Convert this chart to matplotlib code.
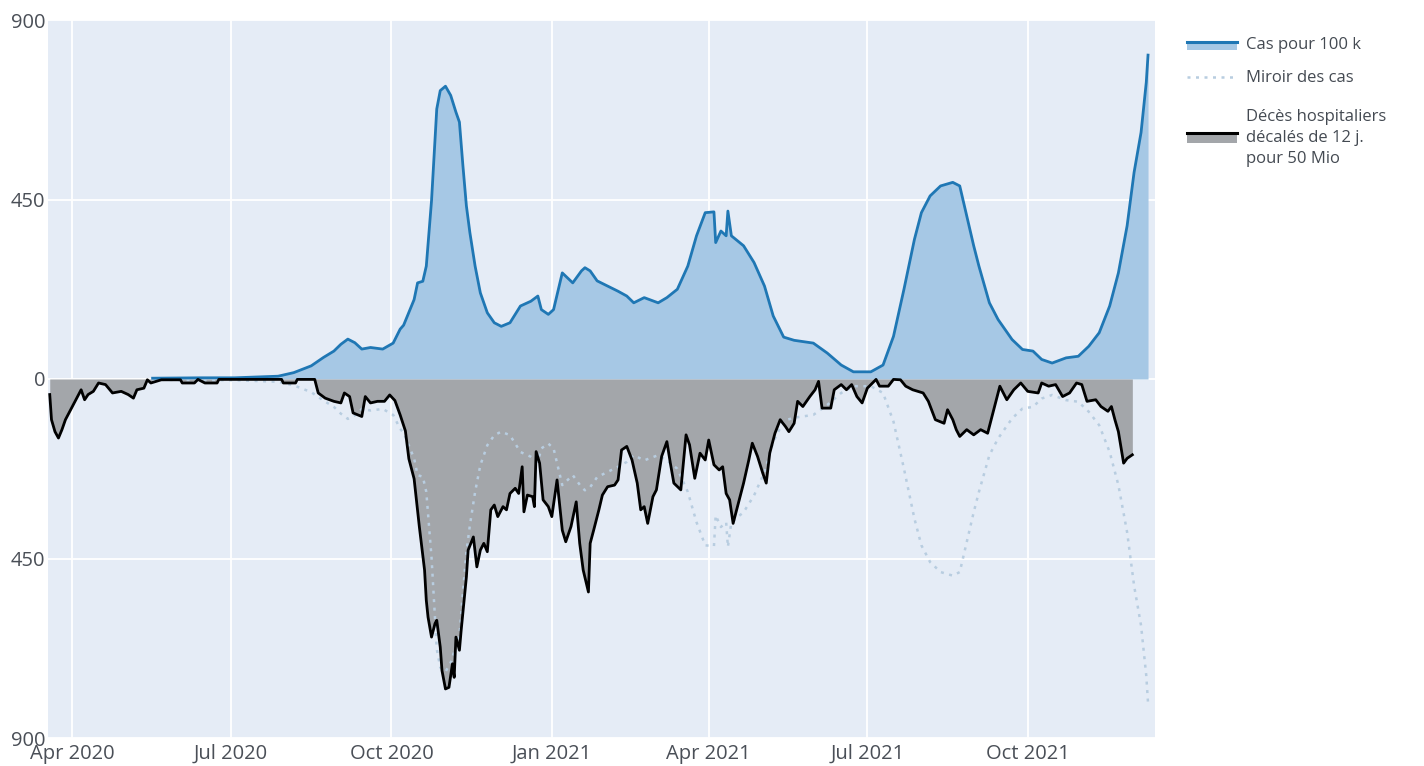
import matplotlib
matplotlib.use("Agg")
import matplotlib.pyplot as plt
from matplotlib.lines import Line2D
from matplotlib.patches import Rectangle
from matplotlib.ticker import FuncFormatter
import pandas as pd

plt.rcParams['font.family'] = ['Open Sans', 'DejaVu Sans']

# ---------------- data ----------------
case_dates = [
    "2020-05-17", "2020-06-14", "2020-07-03", "2020-07-28", "2020-08-06", "2020-08-16",
    "2020-08-23", "2020-08-29", "2020-09-02", "2020-09-06", "2020-09-10", "2020-09-14",
    "2020-09-19", "2020-09-26", "2020-10-02", "2020-10-06", "2020-10-08", "2020-10-14",
    "2020-10-16", "2020-10-19", "2020-10-21", "2020-10-24", "2020-10-27", "2020-10-29",
    "2020-11-01", "2020-11-04", "2020-11-07", "2020-11-09", "2020-11-11", "2020-11-13",
    "2020-11-15", "2020-11-18", "2020-11-21", "2020-11-25", "2020-11-29", "2020-12-03",
    "2020-12-08", "2020-12-14", "2020-12-20", "2020-12-24", "2020-12-26", "2020-12-30",
    "2021-01-02", "2021-01-07", "2021-01-13", "2021-01-18", "2021-01-20", "2021-01-23",
    "2021-01-27", "2021-02-02", "2021-02-08", "2021-02-13", "2021-02-17", "2021-02-23",
    "2021-03-03", "2021-03-08", "2021-03-14", "2021-03-20", "2021-03-25", "2021-03-30",
    "2021-04-04", "2021-04-05", "2021-04-08", "2021-04-11", "2021-04-12", "2021-04-14",
    "2021-04-21", "2021-04-27", "2021-05-03", "2021-05-08", "2021-05-14", "2021-05-20",
    "2021-05-31", "2021-06-08", "2021-06-16", "2021-06-23", "2021-07-03", "2021-07-10",
    "2021-07-16", "2021-07-22", "2021-07-28", "2021-08-01", "2021-08-06", "2021-08-12",
    "2021-08-19", "2021-08-23", "2021-08-27", "2021-08-31", "2021-09-03", "2021-09-09",
    "2021-09-14", "2021-09-22", "2021-09-28", "2021-10-04", "2021-10-09", "2021-10-15",
    "2021-10-23", "2021-10-30", "2021-11-05", "2021-11-11", "2021-11-17", "2021-11-22",
    "2021-11-27", "2021-12-01", "2021-12-05", "2021-12-08", "2021-12-09",
]
case_values = [
    2, 3, 3, 7, 16, 33,
    54, 70, 87, 100, 91, 75,
    79, 75, 90, 125, 135, 199,
    241, 245, 283, 447, 677, 723,
    734, 711, 669, 644, 535, 434,
    367, 283, 216, 166, 141, 132,
    141, 183, 195, 208, 174, 162,
    174, 266, 241, 271, 279, 271,
    246, 233, 220, 208, 191, 204,
    191, 204, 225, 283, 359, 417,
    419, 342, 371, 359, 421, 359,
    334, 292, 233, 158, 105, 97,
    90, 65, 35, 18, 18, 35,
    107, 225, 350, 417, 459, 484,
    493, 484, 409, 334, 283, 191,
    149, 99, 74, 70, 49, 40,
    53, 57, 82, 116, 183, 266,
    384, 518, 618, 744, 812,
]
mirror_values = [-v for v in case_values]

death_dates = [
    "2020-03-19", "2020-03-20", "2020-03-22", "2020-03-24", "2020-03-26", "2020-03-28",
    "2020-03-31", "2020-04-03", "2020-04-06", "2020-04-08", "2020-04-10", "2020-04-13",
    "2020-04-16", "2020-04-20", "2020-04-24", "2020-04-29", "2020-05-03", "2020-05-06",
    "2020-05-08", "2020-05-12", "2020-05-14", "2020-05-16", "2020-05-22", "2020-06-02",
    "2020-06-03", "2020-06-10", "2020-06-12", "2020-06-16", "2020-06-23", "2020-06-24",
    "2020-07-30", "2020-07-31", "2020-08-07", "2020-08-08", "2020-08-18", "2020-08-20",
    "2020-08-24", "2020-08-29", "2020-09-02", "2020-09-04", "2020-09-07", "2020-09-09",
    "2020-09-14", "2020-09-16", "2020-09-19", "2020-09-23", "2020-09-27", "2020-09-30",
    "2020-10-03", "2020-10-06", "2020-10-09", "2020-10-11", "2020-10-14", "2020-10-17",
    "2020-10-20", "2020-10-21", "2020-10-22", "2020-10-24", "2020-10-26", "2020-10-27",
    "2020-10-29", "2020-10-30", "2020-11-01", "2020-11-03", "2020-11-05", "2020-11-06",
    "2020-11-07", "2020-11-09", "2020-11-10", "2020-11-13", "2020-11-14", "2020-11-17",
    "2020-11-19", "2020-11-21", "2020-11-23", "2020-11-25", "2020-11-27", "2020-11-29",
    "2020-12-01", "2020-12-04", "2020-12-06", "2020-12-08", "2020-12-11", "2020-12-13",
    "2020-12-15", "2020-12-16", "2020-12-18", "2020-12-21", "2020-12-22", "2020-12-23",
    "2020-12-25", "2020-12-27", "2020-12-30", "2021-01-01", "2021-01-04", "2021-01-07",
    "2021-01-09", "2021-01-12", "2021-01-15", "2021-01-17", "2021-01-19", "2021-01-22",
    "2021-01-23", "2021-01-25", "2021-01-28", "2021-01-30", "2021-02-02", "2021-02-06",
    "2021-02-08", "2021-02-10", "2021-02-13", "2021-02-16", "2021-02-19", "2021-02-21",
    "2021-02-23", "2021-02-25", "2021-02-28", "2021-03-02", "2021-03-05", "2021-03-08",
    "2021-03-10", "2021-03-12", "2021-03-16", "2021-03-19", "2021-03-21", "2021-03-24",
    "2021-03-27", "2021-03-30", "2021-04-01", "2021-04-04", "2021-04-07", "2021-04-09",
    "2021-04-11", "2021-04-13", "2021-04-15", "2021-04-18", "2021-04-21", "2021-04-24",
    "2021-04-26", "2021-04-29", "2021-05-02", "2021-05-04", "2021-05-06", "2021-05-09",
    "2021-05-12", "2021-05-15", "2021-05-17", "2021-05-20", "2021-05-22", "2021-05-25",
    "2021-05-29", "2021-06-01", "2021-06-03", "2021-06-05", "2021-06-10", "2021-06-12",
    "2021-06-16", "2021-06-19", "2021-06-22", "2021-06-25", "2021-06-28", "2021-07-01",
    "2021-07-06", "2021-07-08", "2021-07-13", "2021-07-16", "2021-07-20", "2021-07-23",
    "2021-07-27", "2021-08-02", "2021-08-05", "2021-08-09", "2021-08-14", "2021-08-16",
    "2021-08-19", "2021-08-21", "2021-08-23", "2021-08-27", "2021-08-31", "2021-09-04",
    "2021-09-08", "2021-09-10", "2021-09-13", "2021-09-15", "2021-09-19", "2021-09-23",
    "2021-09-27", "2021-10-01", "2021-10-07", "2021-10-09", "2021-10-13", "2021-10-17",
    "2021-10-21", "2021-10-25", "2021-10-29", "2021-11-01", "2021-11-04", "2021-11-09",
    "2021-11-12", "2021-11-16", "2021-11-18", "2021-11-20", "2021-11-22", "2021-11-25",
    "2021-11-27", "2021-11-30",
]
death_values = [
    -39, -102, -132, -148, -127, -102,
    -77, -52, -27, -52, -39, -31,
    -10, -14, -35, -31, -39, -48,
    -27, -23, -2, -10, -2, -2,
    -10, -10, -1, -10, -10, -1,
    -1, -10, -10, -1, -1, -35,
    -48, -56, -60, -35, -44, -85,
    -94, -44, -60, -56, -56, -40,
    -54, -90, -130, -200, -250, -370,
    -479, -555, -597, -647, -613, -605,
    -672, -731, -777, -773, -714, -748,
    -647, -680, -630, -496, -429, -396,
    -471, -429, -412, -433, -328, -316,
    -345, -320, -328, -287, -274, -287,
    -220, -333, -291, -295, -320, -182,
    -211, -303, -320, -345, -253, -379,
    -408, -370, -308, -412, -479, -534,
    -412, -379, -328, -291, -270, -266,
    -253, -178, -169, -203, -261, -328,
    -320, -362, -295, -278, -194, -157,
    -211, -261, -278, -140, -165, -249,
    -186, -203, -153, -215, -228, -220,
    -287, -303, -362, -312, -261, -203,
    -161, -194, -236, -261, -186, -136,
    -102, -119, -132, -111, -56, -69,
    -44, -27, -6, -73, -73, -27,
    -14, -27, -14, -44, -60, -23,
    -1, -18, -18, -1, -2, -18,
    -27, -35, -56, -102, -111, -77,
    -102, -127, -144, -127, -140, -127,
    -136, -102, -52, -18, -52, -27,
    -10, -31, -35, -10, -18, -14,
    -44, -35, -10, -14, -56, -52,
    -69, -81, -69, -102, -132, -211,
    -199, -190,
]

y_ticks = [-900, -450, 0, 450, 900]
x_tick_dates = ["2020-04-01", "2020-07-01", "2020-10-01", "2021-01-01",
                "2021-04-01", "2021-07-01", "2021-10-01"]
x_tick_labels = ["Apr 2020", "Jul 2020", "Oct 2020", "Jan 2021",
                 "Apr 2021", "Jul 2021", "Oct 2021"]
legend_labels = ["Cas pour 100 k", "Miroir des cas",
                 "Décès hospitaliers\ndécalés de 12 j.\npour 50 Mio"]

# ---------------- figure ----------------
W, H = 1424, 766
fig = plt.figure(figsize=(W / 100, H / 100), dpi=100)
fig.patch.set_facecolor("white")
ax = fig.add_axes([48 / W, 1 - 738 / H, (1155 - 48) / W, (738 - 20) / H])
ax.set_facecolor("#e5ecf6")

cd = pd.to_datetime(case_dates)
dd = pd.to_datetime(death_dates)

blue = "#1f77b4"
case_fill = "#a6c8e5"
death_fill = "#a3a6aa"
mirror_col = "#b8cde0"
ax.fill_between(cd, case_values, 0, color=case_fill, lw=0, zorder=2)
ax.plot(cd, case_values, color=blue, lw=2.0, zorder=5)
ax.fill_between(dd, death_values, 0, color=death_fill, lw=0, zorder=3)
ax.plot(cd, mirror_values, color=mirror_col, lw=1.8, ls=(0, (1.2, 2.2)), zorder=4)
ax.plot(dd, death_values, color="black", lw=2.0, zorder=6)

ax.set_ylim(-900, 900)
ax.set_xlim(pd.Timestamp("2020-03-18"), pd.Timestamp("2021-12-13"))
ax.set_yticks(y_ticks)
ax.yaxis.set_major_formatter(FuncFormatter(lambda v, p: f"{abs(int(v))}"))
ax.set_xticks(pd.to_datetime(x_tick_dates))
ax.set_xticklabels(x_tick_labels)
ax.grid(True, color="white", lw=1.3, zorder=1)
ax.set_axisbelow(True)
for s in ax.spines.values():
    s.set_visible(False)
tick_col = "#4a4f57"
ax.tick_params(axis="both", length=0, labelsize=14.5, colors=tick_col)
ax.tick_params(axis="x", pad=4)
ax.tick_params(axis="y", pad=2)

# ---------------- legend (plotly-like, manual) ----------------
def fx(x):
    return x / W

def fy(y):
    return 1 - y / H

tc = "#444a52"
fs = 12
# entry 1
fig.add_artist(Rectangle((fx(1187), fy(50)), (1237 - 1187) / W, 8 / H,
                         transform=fig.transFigure, color=case_fill, lw=0))
fig.add_artist(Line2D([fx(1187), fx(1237)], [fy(42), fy(42)], color=blue, lw=2.2,
                      transform=fig.transFigure))
fig.text(fx(1246), fy(45), legend_labels[0], fontsize=fs, color=tc, va="center", ha="left")
# entry 2
fig.add_artist(Line2D([fx(1187), fx(1237)], [fy(77), fy(77)], color=mirror_col, lw=1.8,
                      ls=(0, (1.2, 2.2)), transform=fig.transFigure))
fig.text(fx(1246), fy(78), legend_labels[1], fontsize=fs, color=tc, va="center", ha="left")
# entry 3
fig.add_artist(Rectangle((fx(1187), fy(143)), (1237 - 1187) / W, 10 / H,
                         transform=fig.transFigure, color=death_fill, lw=0))
fig.add_artist(Line2D([fx(1187), fx(1237)], [fy(133), fy(133)], color="black", lw=2.2,
                      transform=fig.transFigure))
fig.text(fx(1246), fy(138), legend_labels[2], fontsize=fs, color=tc, va="center", ha="left",
         linespacing=1.4)

fig.savefig("out.png", dpi=100)
